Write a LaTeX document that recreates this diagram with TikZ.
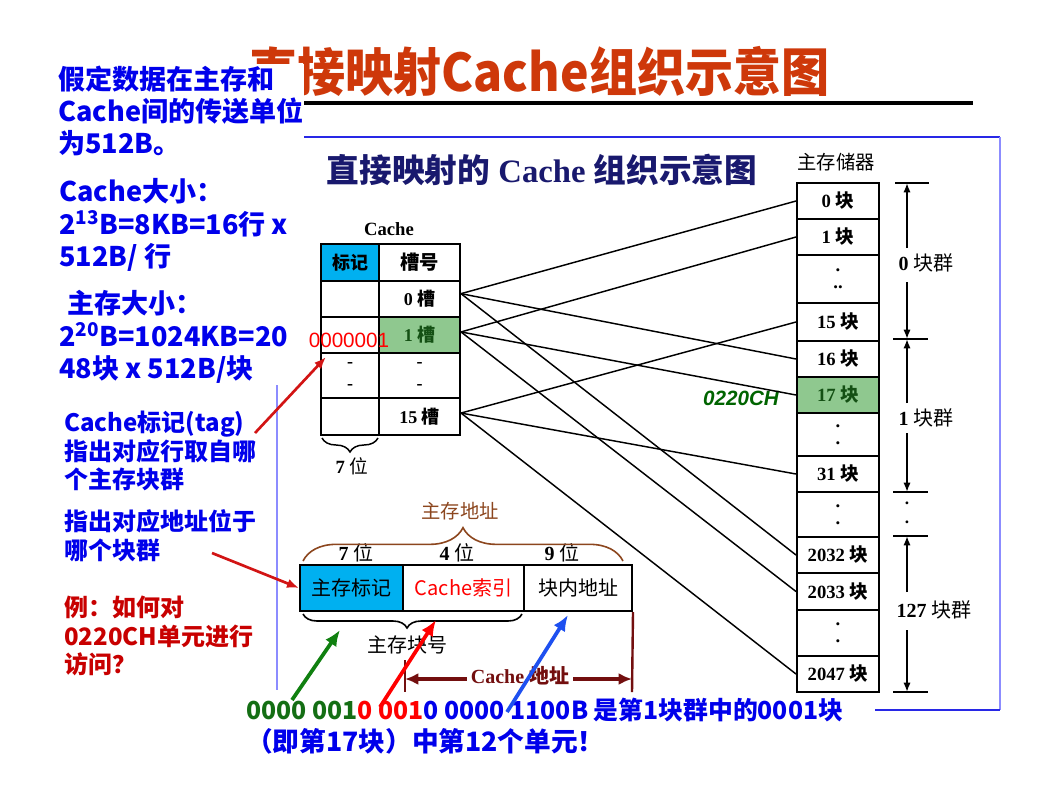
\documentclass[tikz,border=0pt]{standalone}
\usepackage{fontspec}
\setmainfont{Liberation Serif}
\newfontfamily\cjk{Noto Sans CJK SC}
\newfontfamily\arial{Liberation Sans}
\usetikzlibrary{arrows.meta,decorations.pathreplacing,calc}
\definecolor{titlered}{RGB}{206,56,10}
\definecolor{txtblue}{RGB}{0,0,235}
\definecolor{txtred}{RGB}{200,0,0}
\definecolor{navy}{RGB}{25,25,110}
\definecolor{cyanf}{RGB}{0,176,240}
\definecolor{greenf}{RGB}{143,200,143}
\definecolor{dkgreen}{RGB}{0,100,0}
\definecolor{cellgreen}{RGB}{20,80,20}
\definecolor{brn}{RGB}{140,70,30}
\definecolor{dkred}{RGB}{115,15,15}
\definecolor{arrgreen}{RGB}{16,128,16}
\definecolor{btgreen}{RGB}{20,110,20}
\definecolor{arrblue}{RGB}{30,80,240}
\definecolor{arrred}{RGB}{210,20,20}
\definecolor{frameblue}{RGB}{40,40,230}
\definecolor{lightblue}{RGB}{140,140,255}
\newcommand{\zh}[1]{{\cjk #1}}
\newcommand{\zhb}[1]{{\cjk\bfseries #1}}
\newcommand{\fs}[2]{\fontsize{#1}{#2}\selectfont}
\begin{document}
\begin{tikzpicture}[x=0.75pt,y=-0.75pt,
  conn/.style={line width=1.1pt},
  cell/.style={draw, line width=1.5pt, inner sep=0pt, align=center, font=\fs{13.5}{13.5}},
  mcell/.style={draw, line width=1.5pt, inner sep=0pt, minimum width=61.5pt, align=center, font=\fs{14}{12.75}},
  acell/.style={draw, line width=1.5pt, inner sep=0pt, minimum height=34.5pt, font=\cjk\fs{15}{18}},
  lefttxt/.style={anchor=west, align=left, inner xsep=0pt, inner ysep=1pt, text=txtblue, font=\cjk\bfseries\fs{20.3}{24.3}},
  lefttxt2/.style={anchor=west, align=left, inner xsep=0pt, inner ysep=1pt, text=txtblue, font=\cjk\bfseries\fs{18}{21.5}},
  grp/.style={line width=1.5pt, -{Latex[length=7pt,width=5.5pt]}},
  tick/.style={line width=1.5pt},
  bigarr/.style={line width=2.8pt, -{Latex[length=12pt,width=10pt]}},
  redarr/.style={arrred, line width=2pt, -{Latex[length=9pt,width=7pt]}}
]
\fill[white] (0,0) rectangle (1063,793);
\useasboundingbox (0,0) rectangle (1063,793);

% title
\node[anchor=west, inner sep=0pt, text=titlered, font=\cjk\bfseries\fs{39}{44}] (title) at (249,71) {\scalebox{0.925}[1]{直接映射Cache组织示意图}};
\draw[line width=2.3pt] (303,103) -- (973,103);

% frame lines
\draw[frameblue, line width=1.1pt] (303,137) -- (1000,137);
\draw[lightblue, line width=1pt] (1000,137) -- (1000,710);
\draw[frameblue, line width=1.1pt] (875,710) -- (1000,710);
\draw[lightblue, line width=1.1pt] (277,385) -- (277,690);

% left texts
\node[lefttxt, fill=white, text width=184pt] (b1) at (58,111) {假定数据在主存和\\Cache间的传送单位\\为512B。};
\node[lefttxt] (b2) at (59,225) {Cache大小：\\2\textsuperscript{13}B=8KB=16行 x\\512B/ 行};
\node[lefttxt] (b3) at (59,337) {\hspace{6pt}主存大小：\\2\textsuperscript{20}B=1024KB=20\\48块 x 512B/块};
\node[lefttxt2] (b4) at (64,451) {Cache标记(tag)\\指出对应行取自哪\\个主存块群};
\node[lefttxt2] (b5) at (64,536) {指出对应地址位于\\哪个块群};
\node[lefttxt2, text=txtred] (b6) at (64,636) {例：如何对\\0220CH单元进行\\访问？};

% inner title
\node[text=navy, font=\fs{24.5}{28}] (ititle) at (542,170) {\zhb{直接映射的} \textbf{Cache} \zhb{组织示意图}};
\node[font=\cjk\fs{14.5}{16}] (memlbl) at (836,162) {主存储器};
\node[font=\bfseries\fs{14}{16}] (cachelbl) at (389,229) {Cache};

% cache table
\node[cell, fill=cyanf, minimum width=43.5pt, minimum height=27.75pt] (th) at (350,262.5) {\zhb{标记}};
\node[cell, minimum width=60.75pt, minimum height=27.75pt, font=\cjk\bfseries\fs{14.5}{15}] (sh) at (419.5,262.5) {槽号};
\node[cell, minimum width=43.5pt, minimum height=27pt] (t0) at (350,299) {};
\node[cell, minimum width=60.75pt, minimum height=27pt] (s0) at (419.5,299) {\raisebox{-3pt}{\textbf{0} \zhb{槽}}};
\node[cell, minimum width=43.5pt, minimum height=27pt] (t1) at (350,335) {};
\node[cell, fill=greenf, text=cellgreen, minimum width=60.75pt, minimum height=27pt] (s1) at (419.5,335) {\raisebox{-3pt}{\textbf{1} \zhb{槽}}};
\node[cell, minimum width=43.5pt, minimum height=33.75pt] (t2) at (350,375.5) {\raisebox{-5pt}{\textbf{-}}\\[3pt]\raisebox{-5pt}{\textbf{-}}};
\node[cell, minimum width=60.75pt, minimum height=33.75pt] (s2) at (419.5,375.5) {\raisebox{-5pt}{\textbf{-}}\\[3pt]\raisebox{-5pt}{\textbf{-}}};
\node[cell, minimum width=43.5pt, minimum height=27.75pt] (t3) at (350,416.5) {};
\node[cell, minimum width=60.75pt, minimum height=27.75pt] (s3) at (419.5,416.5) {\raisebox{-3pt}{\textbf{15} \zhb{槽}}};
\node[text=red, font=\arial\fs{15.5}{16}] (tagval) at (349,340) {0000001};
\draw[line width=1.1pt, decorate, decoration={brace, amplitude=10.5pt}] (378,438) -- (322,438);
\node[font=\fs{14}{16}] (sevenbit) at (352,466) {\textbf{7} \zh{位}};

% main memory column
\node[mcell, minimum height=27pt] (m0) at (838,201) {\textbf{0} \zhb{块}};
\node[mcell, minimum height=27pt] (m1) at (838,237) {\textbf{1} \zhb{块}};
\node[mcell, minimum height=36pt] (md1) at (838,279) {\textbf{.}\\\textbf{..}};
\node[mcell, minimum height=28.5pt] (m15) at (838,322) {\textbf{15} \zhb{块}};
\node[mcell, minimum height=27pt] (m16) at (838,359) {\textbf{16} \zhb{块}};
\node[mcell, fill=greenf, text=cellgreen, minimum height=27pt] (m17) at (838,395) {\textbf{17} \zhb{块}};
\node[mcell, minimum height=32.25pt] (md2) at (838,434.5) {\textbf{.}\\\textbf{.}};
\node[mcell, minimum height=27pt] (m31) at (838,474) {\textbf{31} \zhb{块}};
\node[mcell, minimum height=33.75pt] (md3) at (838,514.5) {\textbf{.}\\\textbf{.}};
\node[mcell, minimum height=27pt] (m2032) at (838,555) {\textbf{2032} \zhb{块}};
\node[mcell, minimum height=27.75pt] (m2033) at (838,591.5) {\textbf{2033} \zhb{块}};
\node[mcell, minimum height=34.5pt] (md4) at (838,633) {\textbf{.}\\\textbf{.}};
\node[mcell, minimum height=27pt] (m2047) at (838,674) {\textbf{2047} \zhb{块}};
\node[text=dkgreen, font=\arial\bfseries\itshape\fs{15.5}{16}] (addr) at (741,398) {0220CH};

% connectors cache -> memory
\draw[conn] ([yshift=4pt]s0.east) -- (m0.west);
\draw[conn] ([yshift=4pt]s0.east) -- (m16.west);
\draw[conn] ([yshift=4pt]s0.east) -- (m2032.west);
\draw[conn] ([yshift=2.3pt]s1.east) -- (m1.west);
\draw[conn] ([yshift=2.3pt]s1.east) -- (m17.west);
\draw[conn] ([yshift=2.3pt]s1.east) -- (m2033.west);
\draw[conn] ([yshift=2.6pt]s3.east) -- (m15.west);
\draw[conn] ([yshift=2.6pt]s3.east) -- (m31.west);
\draw[conn] ([yshift=2.6pt]s3.east) -- (m2047.west);

% block group dimension marks
\draw[tick] (895,183) -- (929,183);
\draw[tick] (893,339) -- (928,339);
\draw[tick] (893,492) -- (928,492);
\draw[tick] (893,536) -- (928,536);
\draw[tick] (893,692) -- (928,692);
\node[font=\fs{15}{16}] (g0) at (926,263) {\textbf{0} \zh{块群}};
\node[font=\fs{15}{16}] (g1) at (926,418) {\textbf{1} \zh{块群}};
\node[font=\fs{15}{16}] (g127) at (934,610) {\textbf{127} \zh{块群}};
\coordinate (ga0) at (907,248); \coordinate (ta0) at (907,183);
\coordinate (gb0) at (907,282); \coordinate (tb0) at (907,339);
\coordinate (ga1) at (907,403); \coordinate (ta1) at (907,339);
\coordinate (gb1) at (907,433); \coordinate (tb1) at (907,492);
\coordinate (ga2) at (907,592); \coordinate (ta2) at (907,536);
\coordinate (gb2) at (907,630); \coordinate (tb2) at (907,692);
\draw[grp] (ga0) -- (ta0);
\draw[grp] (gb0) -- (tb0);
\draw[grp] (ga1) -- (ta1);
\draw[grp] (gb1) -- (tb1);
\draw[grp] (ga2) -- (ta2);
\draw[grp] (gb2) -- (tb2);
\node[font=\bfseries\fs{13}{13}] (gd1) at (907,503) {.};
\node[font=\bfseries\fs{13}{13}] (gd2) at (907,522) {.};

% address format
\node[acell, fill=cyanf, minimum width=77.25pt] (a1) at (351.5,588) {主存标记};
\node[acell, minimum width=90.75pt, text=red] (a2) at (463.5,588) {Cache索引};
\node[acell, minimum width=81pt] (a3) at (578,588) {块内地址};
\node[font=\fs{15}{16}] (w1) at (356,553) {\textbf{7} \zh{位}};
\node[font=\fs{15}{16}] (w2) at (457,553) {\textbf{4} \zh{位}};
\node[font=\fs{15}{16}] (w3) at (562,553) {\textbf{9} \zh{位}};
\draw[brn, line width=1.2pt, decorate, decoration={brace, amplitude=25pt}] (303,561) -- (623,561);
\node[text=brn, font=\cjk\fs{14.5}{16}] (mainaddr) at (460,511) {主存地址};
\draw[line width=1.2pt, decorate, decoration={brace, amplitude=10.5pt, aspect=0.525}] (522,614) -- (303,614);
\node[font=\cjk\fs{15}{16}] (blkno) at (407,645) {主存块号};

% cache address
\coordinate (cl) at (405,660); \coordinate (clb) at (405,692);
\coordinate (crb) at (632,692);
\draw[dkred, line width=1.8pt] (cl) -- (clb);
\draw[dkred, line width=1.8pt] (a3.south east) -- (crb);
\coordinate (cal) at (405,679); \coordinate (car) at (632,679);
\draw[dkred, line width=2.4pt, {Latex[length=10pt,width=9pt]}-{Latex[length=10pt,width=9pt]}] (cal) -- (car);
\node[fill=white, text=dkred, inner xsep=3pt, inner ysep=1pt, font=\bfseries\fs{15}{16}] (cacheaddr) at (520,676) {Cache \zhb{地址}};

% bottom text
\node[anchor=west, inner sep=0pt, font=\cjk\bfseries\fs{18.6}{23}] (bt1) at (246,710) {\textcolor{btgreen}{0000 001}\textcolor{red}{0 001}\textcolor{txtblue}{0 0000 1100B 是第1块群中的0001块}};
\node[anchor=west, inner sep=0pt, text=txtblue, font=\cjk\bfseries\fs{20}{23}] (bt2) at (246,741) {（即第17块）中第12个单元！};

% colored arrows
\coordinate (gt) at (292,700); \coordinate (gh) at (340,630);
\coordinate (rt) at (380,707); \coordinate (rh) at (436,620);
\coordinate (blt) at (507,712); \coordinate (blh) at (568,615);
\draw[bigarr, arrgreen] (gt) -- (gh);
\draw[bigarr, red] (rt) -- (rh);
\draw[bigarr, arrblue] (blt) -- (blh);

% red pointer arrows
\coordinate (p1t) at (255,433); \coordinate (p1h) at (326,357);
\coordinate (p2t) at (212,553);
\draw[redarr] (p1t) -- (p1h);
\draw[redarr] (p2t) -- (a1.west);
\end{tikzpicture}
\end{document}
